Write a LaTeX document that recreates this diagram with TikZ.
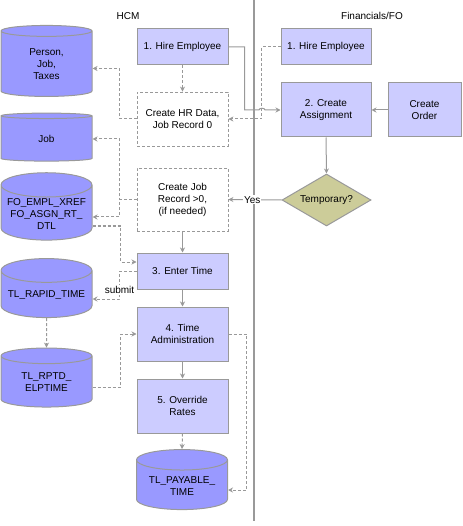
\documentclass[tikz,border=0pt]{standalone}
\usepackage{fontspec}
\setmainfont{Liberation Sans}
\usetikzlibrary{shapes.geometric,arrows.meta}
\definecolor{boxfill}{HTML}{CCCCFF}
\definecolor{dbfill}{HTML}{9999FF}
\definecolor{decfill}{HTML}{CCCC99}
\definecolor{linegray}{HTML}{999999}

\tikzset{
  txt/.style={font=\fontsize{10}{12}\selectfont, align=center},
  stepbox/.style={txt, draw=linegray, line width=1pt, fill=boxfill, minimum width=91pt, inner sep=1pt},
  optbox/.style={txt, draw=linegray, line width=0.8pt, dash pattern=on 3pt off 2pt, fill=white, minimum width=91pt, inner sep=1pt},
  dbase/.style={txt, cylinder, shape border rotate=90, aspect=0.3, draw=linegray, line width=1pt, fill=dbfill, minimum width=91pt, inner sep=1pt},
  decision/.style={txt, diamond, aspect=1.7, draw=linegray, line width=1pt, fill=decfill, minimum width=89pt, minimum height=52pt, inner sep=0pt},
  flow/.style={draw=linegray, line width=1pt, -{Stealth[length=5pt,width=5pt]}},
  dflow/.style={flow, dash pattern=on 3pt off 2pt},
}

\begin{document}
\begin{tikzpicture}[x=1pt, y=-1pt]
    \useasboundingbox (0,0) rectangle (462,526);
    % swim lanes
    \draw[linegray, line width=1.3pt] (254,0) -- (254,521);
    \node[txt] (hcm) at (128,16) {HCM};
    \node[txt] (fin) at (372,16) {Financials/FO};

    % HCM steps
    \node[stepbox, minimum height=36pt] (hireH) at (182.5,47) {1. Hire Employee};
    \node[optbox, minimum height=54pt] (hrdata) at (182.5,119) {Create HR Data,\\Job Record 0};
    \node[optbox, minimum height=63pt] (jobrec) at (182.5,199.5) {Create Job\\Record >0,\\(if needed)};
    \node[stepbox, minimum height=36pt] (entertime) at (182.5,271) {3. Enter Time};
    \node[stepbox, minimum height=54pt] (timeadm) at (182.5,334) {4. Time\\Administration};
    \node[stepbox, minimum height=54pt] (override) at (182.5,406) {5. Override\\Rates};
    \node[dbase, minimum height=60pt] (payable) at (182,486) {TL\_PAYABLE\_\\TIME};

    % HCM tables
    \node[dbase, minimum height=71pt] (person) at (46.5,64.5) {Person,\\Job,\\Taxes};
    \node[dbase, minimum height=48pt] (job) at (46.5,139) {Job};
    \node[dbase, minimum height=60pt] (foempl) at (46.5,214) {FO\_EMPL\_XREF\\FO\_ASGN\_RT\_\\DTL};
    \node[dbase, minimum height=59pt] (rapid) at (46.5,295.5) {TL\_RAPID\_TIME};
    \node[dbase, minimum height=59pt] (rptd) at (46.5,382.5) {TL\_RPTD\_\\ELPTIME};

    % Financials/FO steps
    \node[stepbox, minimum width=90pt, minimum height=36pt] (hireF) at (326,47) {1. Hire Employee};
    \node[stepbox, minimum width=90pt, minimum height=54pt] (assign) at (326,110) {2. Create\\Assignment};
    \node[stepbox, minimum width=73pt, minimum height=54pt] (order) at (424.5,110) {Create\\Order};
    \node[decision] (temp) at (326.5,200) {Temporary?};

    % connectors
    \draw[flow] (hireH.east) -- ++(16,0) |- (259,110) to[out=90,in=90] (265,110) -- (assign.west);
    \draw[dflow] (hireF.west) -- ++(-19,0) |- (hrdata.east);
    \draw[dflow] (hireH.south) -- (hrdata.north);
    \draw[dflow] (hrdata.west) -- ++(-17,0) |- ([yshift=-4pt]person.east);
    \draw[dflow] (jobrec.west) -- ++(-17,0) |- (job.east);
    \draw[dflow] (jobrec.west) -- ++(-17,0) |- ([yshift=-3pt]foempl.east);
    \draw[dflow] ([yshift=-12pt]foempl.east) -- ++(28,0) |- ([yshift=9pt]entertime.west);
    \draw[dflow] (entertime.west) -- ++(-17,0) |- node[txt, pos=0.34, fill=white, inner sep=1pt] (submit) {submit} ([yshift=-3.5pt]rapid.east);
    \draw[flow] (jobrec.south) -- (entertime.north);
    \draw[flow] (entertime.south) -- (timeadm.north);
    \draw[dflow] (rapid.south) -- (rptd.north);
    \draw[dflow] ([yshift=-4.5pt]rptd.east) -- ++(28,0) |- (timeadm.west);
    \draw[flow] (timeadm.south) -- (override.north);
    \draw[dflow] (override.south) -- (payable.north);
    \draw[dflow] (timeadm.east) -- ++(18,0) |- ([yshift=-4pt]payable.east);
    \draw[flow] (order.west) -- (assign.east);
    \draw[flow] (assign.south) -- (temp.north);
    \draw[flow] (temp.west) -- node[txt, pos=0.55, fill=white, inner sep=1pt] (yes) {Yes} (jobrec.east);
\end{tikzpicture}
\end{document}
